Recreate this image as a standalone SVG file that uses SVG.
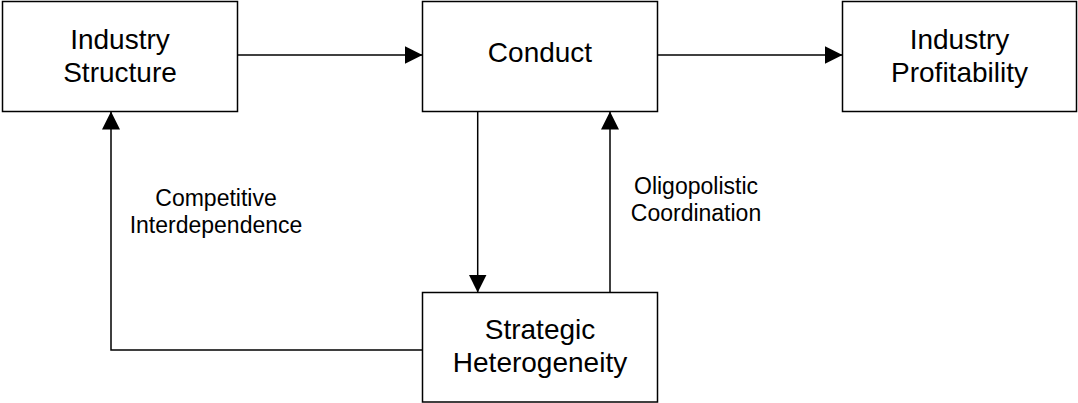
<svg xmlns="http://www.w3.org/2000/svg" width="1078" height="403" viewBox="0 0 1078 403">
<style>
.box{fill:#fff;stroke:#000;stroke-width:1.5}
.t{font-family:"Liberation Sans",Arial,sans-serif;font-size:28px;fill:#000;text-anchor:middle}
.l{font-family:"Liberation Sans",Arial,sans-serif;font-size:23px;fill:#000;text-anchor:middle}
.c{fill:none;stroke:#000;stroke-width:1.5}
</style>
<defs>
<marker id="ah" markerUnits="userSpaceOnUse" markerWidth="18" markerHeight="18" viewBox="0 0 18 18" refX="18" refY="9" orient="auto">
<path d="M0,0 L18,9 L0,18 z" fill="#000"/>
</marker>
</defs>
<rect width="1078" height="403" fill="#fff"/>
<g id="connectors">
<line class="c" x1="237.5" y1="55" x2="422.5" y2="55" marker-end="url(#ah)"/>
<line class="c" x1="657.5" y1="55" x2="842.5" y2="55" marker-end="url(#ah)"/>
<line class="c" x1="477.7" y1="111.5" x2="477.7" y2="292.5" marker-end="url(#ah)"/>
<line class="c" x1="610" y1="292.5" x2="610" y2="111.5" marker-end="url(#ah)"/>
<polyline class="c" points="422.5,350 111,350 111,111.5" marker-end="url(#ah)"/>
<text class="l" x="216" y="206">Competitive</text>
<text class="l" x="216" y="233">Interdependence</text>
<text class="l" x="696" y="194">Oligopolistic</text>
<text class="l" x="696" y="221">Coordination</text>
</g>
<g id="industry-structure">
<rect class="box" x="2.5" y="1.5" width="235" height="110"/>
<text class="t" x="120" y="48.5">Industry</text>
<text class="t" x="120" y="82">Structure</text>
</g>
<g id="conduct">
<rect class="box" x="422.5" y="1.5" width="235" height="110"/>
<text class="t" x="540" y="61.7">Conduct</text>
</g>
<g id="industry-profitability">
<rect class="box" x="842.5" y="1.5" width="234" height="110"/>
<text class="t" x="959.5" y="48.5">Industry</text>
<text class="t" x="959.5" y="81.5">Profitability</text>
</g>
<g id="strategic-heterogeneity">
<rect class="box" x="422.5" y="292.5" width="235" height="109.5"/>
<text class="t" x="540" y="339">Strategic</text>
<text class="t" x="540" y="372">Heterogeneity</text>
</g>
</svg>
